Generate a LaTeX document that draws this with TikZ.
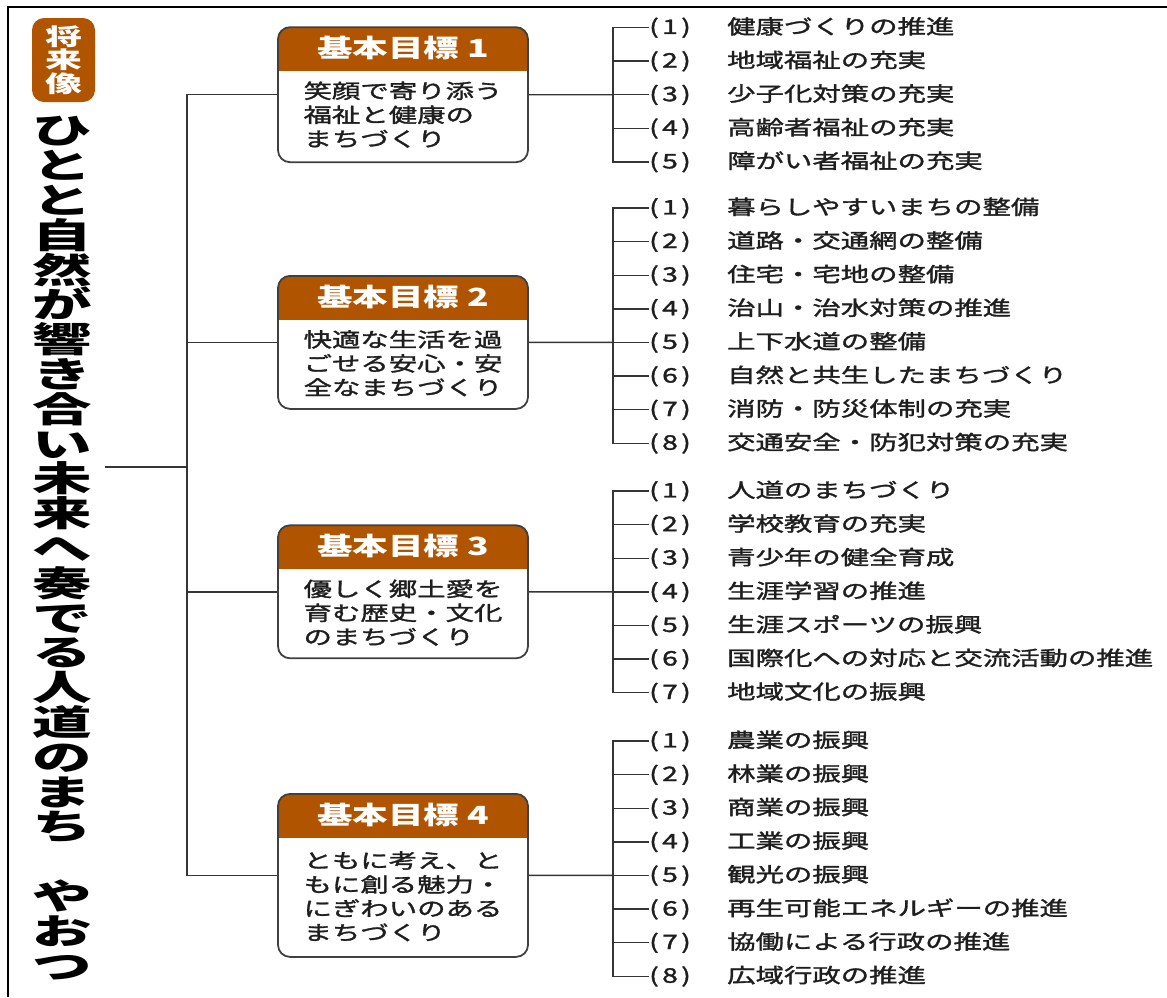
\documentclass[tikz,border=0pt]{standalone}
\usepackage{fontspec}
\usepackage{tikz}
\usetikzlibrary{positioning}
\newfontfamily\jpfont[FakeStretch=1.42]{Noto Sans CJK JP}
\newfontfamily\itemfont[FakeStretch=1.42, FakeBold=1.6]{Noto Sans CJK JP}
\newfontfamily\titlefont[FakeStretch=1.7]{Noto Sans CJK JP}
\newfontfamily\badgefont[FakeStretch=1.6]{Noto Sans CJK JP}
\definecolor{brand}{RGB}{176,84,0}
\definecolor{ink}{RGB}{30,30,30}
\newcommand{\itm}[2]{\makebox[78pt][l]{(\,#1\,)}#2}
\tikzset{>=latex}

\begin{document}
\begin{tikzpicture}[x=1pt, y=-1pt,
  goalbox/.style = {rectangle, draw=ink!85, line width=1.8pt, rounded corners=12pt, minimum width=250pt,
    path picture={\fill[brand, sharp corners] (path picture bounding box.north west) rectangle ([yshift=-44pt]path picture bounding box.north east);}},
  goalhead/.style = {text=white, font=\jpfont\bfseries\fontsize{25}{30}\selectfont, inner sep=0pt},
  goalbody/.style = {text=ink, align=left, font=\itemfont\fontsize{20}{24}\selectfont, inner sep=0pt},
  item/.style = {anchor=west, text=ink, font=\itemfont\fontsize{20}{24}\selectfont, inner sep=0pt},
  badge/.style = {fill=brand, rounded corners=12pt, minimum width=63pt, minimum height=84pt, text=white, align=center, inner sep=0pt,
    font=\badgefont\bfseries\fontsize{23}{23.5}\selectfont},
  vision/.style = {align=center, inner sep=0pt, font=\titlefont\bfseries\fontsize{35}{34.8}\selectfont},
  link/.style = {draw=ink!90, line width=1.4pt}]
  \useasboundingbox (0,0) rectangle (1167,997);
  % frame
  \draw[line width=2.5pt] (8,997) -- (8,7) -- (1167,7);

  % vision
  \node[badge] (badge) at (63.5,60) {将\\来\\像};
  \node[vision] (vision) at (62,548) {ひ\\と\\と\\自\\然\\が\\響\\き\\合\\い\\未\\来\\へ\\奏\\で\\る\\人\\道\\の\\ま\\ち\\　\\や\\お\\つ};
  \coordinate (visionout) at (105,467);

  % goals
  \node[goalbox, minimum height=135pt] (goal1) at (403,94.7) {};
  \node[goalhead] (goal1h) at ([yshift=-22pt]goal1.north) {基本目標 1};
  \node[goalbody, below=55pt of goal1.north, anchor=north] (goal1b) {笑顔で寄り添う\\福祉と健康の\\まちづくり};

  \node[goalbox, minimum height=133pt] (goal2) at (403,342.4) {};
  \node[goalhead] (goal2h) at ([yshift=-22pt]goal2.north) {基本目標 2};
  \node[goalbody, below=55pt of goal2.north, anchor=north] (goal2b) {快適な生活を過\\ごせる安心・安\\全なまちづくり};

  \node[goalbox, minimum height=133pt] (goal3) at (403,591.8) {};
  \node[goalhead] (goal3h) at ([yshift=-22pt]goal3.north) {基本目標 3};
  \node[goalbody, below=55pt of goal3.north, anchor=north] (goal3b) {優しく郷土愛を\\育む歴史・文化\\のまちづくり};

  \node[goalbox, minimum height=163pt] (goal4) at (403,875.4) {};
  \node[goalhead] (goal4h) at ([yshift=-22pt]goal4.north) {基本目標 4};
  \node[goalbody, below=58pt of goal4.north, anchor=north] (goal4b) {ともに考え、と\\もに創る魅力・\\にぎわいのある\\まちづくり};

  % measures
  \foreach \txt [count=\i] in {健康づくりの推進,地域福祉の充実,少子化対策の充実,高齢者福祉の充実,障がい者福祉の充実}
    \node[item] (g1i\i) at (649,{27.5+33.6*(\i-1)}) {\itm{\i}{\txt}};
  \foreach \txt [count=\i] in {暮らしやすいまちの整備,道路・交通網の整備,住宅・宅地の整備,治山・治水対策の推進,上下水道の整備,自然と共生したまちづくり,消防・防災体制の充実,交通安全・防犯対策の充実}
    \node[item] (g2i\i) at (649,{208+33.6*(\i-1)}) {\itm{\i}{\txt}};
  \foreach \txt [count=\i] in {人道のまちづくり,学校教育の充実,青少年の健全育成,生涯学習の推進,生涯スポーツの振興,国際化への対応と交流活動の推進,地域文化の振興}
    \node[item] (g3i\i) at (649,{491+33.6*(\i-1)}) {\itm{\i}{\txt}};
  \foreach \txt [count=\i] in {農業の振興,林業の振興,商業の振興,工業の振興,観光の振興,再生可能エネルギーの推進,協働による行政の推進,広域行政の推進}
    \node[item] (g4i\i) at (649,{741+33.6*(\i-1)}) {\itm{\i}{\txt}};

  % connections
  \draw[link] (visionout) -- ++(83,0);
  \draw[link] (goal1.west) -- ++(-90,0) |- (goal4.west);
  \draw[link] (goal2.west) -- ++(-90,0);
  \draw[link] (goal3.west) -- ++(-90,0);

  \draw[link] (goal1.east) -- ([xshift=-36pt]g1i3.west);
  \draw[link] (g1i1.west) -- ++(-36,0) |- (g1i5.west);
  \foreach \i in {2,3,4} \draw[link] (g1i\i.west) -- ++(-36,0);

  \draw[link] (goal2.east) -- ([xshift=-36pt]g2i5.west);
  \draw[link] (g2i1.west) -- ++(-36,0) |- (g2i8.west);
  \foreach \i in {2,...,7} \draw[link] (g2i\i.west) -- ++(-36,0);

  \draw[link] (goal3.east) -- ([xshift=-36pt]g3i4.west);
  \draw[link] (g3i1.west) -- ++(-36,0) |- (g3i7.west);
  \foreach \i in {2,...,6} \draw[link] (g3i\i.west) -- ++(-36,0);

  \draw[link] (goal4.east) -- ([xshift=-36pt]g4i5.west);
  \draw[link] (g4i1.west) -- ++(-36,0) |- (g4i8.west);
  \foreach \i in {2,...,7} \draw[link] (g4i\i.west) -- ++(-36,0);
\end{tikzpicture}
\end{document}
